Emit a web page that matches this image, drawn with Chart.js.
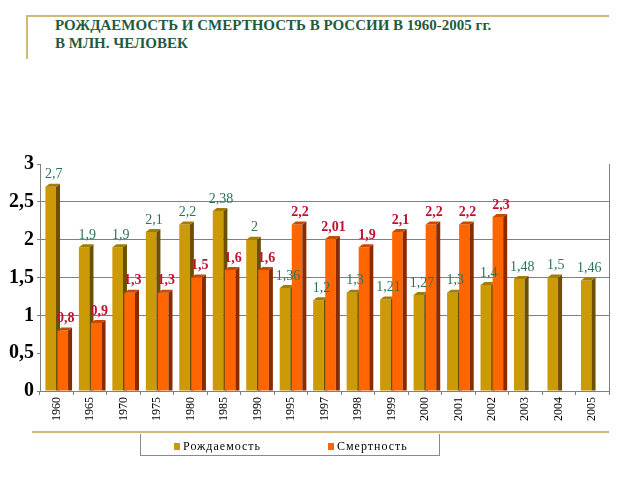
<!DOCTYPE html>
<html>
<head>
<meta charset="utf-8">
<script src="https://cdn.jsdelivr.net/npm/chart.js@4"></script>
<style>
  body { margin: 0; background: #fff; }
  #wrap { position: relative; width: 640px; height: 480px; overflow: hidden; }
  #chart { position: absolute; left: 0; top: 0; }
  .deco { position: absolute; background: #cfb97c; }
  #title {
    position: absolute; left: 55px; top: 16px;
    font: bold 15px 'Liberation Serif', serif; color: #1f5c3d;
    line-height: 18px; white-space: nowrap;
  }
  #legend {
    position: absolute; left: 140px; top: 434px; width: 298px; height: 21px;
    border: 1px solid #8a8a8a; border-top: none; box-sizing: content-box;
    font: 12px 'Liberation Serif', serif; letter-spacing: 1px; color: #000;
  }
  .item { position: absolute; top: 5px; white-space: nowrap; }
  .sw { display: inline-block; width: 6px; height: 7px; margin-right: 3px; }
</style>
</head>
<body>
<div id="wrap">
  <div class="deco" style="left:27px; top:15px; width:582px; height:2px;"></div>
  <div class="deco" style="left:26px; top:15px; width:2px; height:44px;"></div>
  <div class="deco" style="left:32px; top:431px; width:577px; height:2px;"></div>
  <div id="title">РОЖДАЕМОСТЬ И СМЕРТНОСТЬ В РОССИИ В 1960-2005 гг.<br>В МЛН. ЧЕЛОВЕК</div>
  <canvas id="chart" width="640" height="480"></canvas>
  <div id="legend"></div>
</div>
<script>
// Chart data
const years = ['1960', '1965', '1970', '1975', '1980', '1985', '1990', '1995', '1997',
  '1998', '1999', '2000', '2001', '2002', '2003', '2004', '2005'];
const birthRate = [2.7, 1.9, 1.9, 2.1, 2.2, 2.38, 2, 1.36, 1.2, 1.3, 1.21, 1.27, 1.3, 1.4, 1.48, 1.5, 1.46];
const deathRate = [0.8, 0.9, 1.3, 1.3, 1.5, 1.6, 1.6, 2.2, 2.01, 1.9, 2.1, 2.2, 2.2, 2.3, null, null, null];
const seriesNames = ['Рождаемость', 'Смертность'];

const faceColors = ['#cc9a06', '#ff6600'];
const sideColors = ['#6b5000', '#8a2a00'];
const topColors = ['#a37c05', '#c44b00'];
const labelColors = ['#2b7355', '#c0122e'];

function fmt(v) {
  return String(v).replace('.', ',');
}

// fake 3D bars: default drawing is skipped, every bar drawn here left to right
const depthPlugin = {
  id: 'depth',
  beforeDatasetDraw() {
    return false;
  },
  afterDatasetsDraw(chart) {
    const ctx = chart.ctx;
    const dx = 4, dy = 3;
    const area = chart.chartArea;
    ctx.save();
    ctx.beginPath();
    ctx.rect(area.left, area.top - 20, area.right - area.left, area.bottom - area.top + 20);
    ctx.clip();
    chart.data.datasets.forEach((ds, i) => {
      const meta = chart.getDatasetMeta(i);
      meta.data.forEach((bar, j) => {
        if (ds.data[j] == null) return;
        bar.draw(ctx, area);
        const half = bar.width / 2;
        const r = bar.x + half, l = bar.x - half;
        ctx.fillStyle = sideColors[i];
        ctx.beginPath();
        ctx.moveTo(r, bar.y);
        ctx.lineTo(r + dx, bar.y - dy);
        ctx.lineTo(r + dx, bar.base);
        ctx.lineTo(r, bar.base);
        ctx.closePath();
        ctx.fill();
        ctx.fillStyle = topColors[i];
        ctx.beginPath();
        ctx.moveTo(l, bar.y);
        ctx.lineTo(l + dx, bar.y - dy);
        ctx.lineTo(r + dx, bar.y - dy);
        ctx.lineTo(r, bar.y);
        ctx.closePath();
        ctx.fill();
      });
    });
    ctx.restore();

    // value labels
    ctx.save();
    ctx.textAlign = 'center';
    ctx.textBaseline = 'bottom';
    chart.data.datasets.forEach((ds, i) => {
      const meta = chart.getDatasetMeta(i);
      ctx.font = (i === 1 ? 'bold ' : '') + '14px "Liberation Serif", serif';
      ctx.fillStyle = labelColors[i];
      meta.data.forEach((bar, j) => {
        const v = ds.data[j];
        if (v == null) return;
        ctx.fillText(fmt(v), bar.x + 3, bar.y - 5);
      });
    });
    ctx.restore();
  }
};

const chart = new Chart(document.getElementById('chart'), {
  type: 'bar',
  data: {
    labels: years,
    datasets: [
      { label: seriesNames[0], data: birthRate, backgroundColor: faceColors[0] },
      { label: seriesNames[1], data: deathRate, backgroundColor: faceColors[1] }
    ]
  },
  options: {
    responsive: false,
    animation: false,
    categoryPercentage: 0.72,
    barPercentage: 0.88,
    layout: { padding: { left: 0, top: 164, right: 31, bottom: 29 } },
    plugins: {
      legend: { display: false },
      tooltip: { enabled: false }
    },
    scales: {
      x: {
        afterFit: (scale) => { scale.height = 60; },
        grid: {
          offset: true,
          color: (c) => c.type === 'scale' ? '#808080' : 'rgba(0,0,0,0)',
          tickColor: '#808080',
          tickLength: 4
        },
        border: { color: '#808080' },
        ticks: {
          minRotation: 90,
          maxRotation: 90,
          padding: 2,
          color: '#000',
          font: { family: 'Liberation Serif', size: 12 }
        }
      },
      y: {
        min: 0,
        max: 3,
        afterFit: (scale) => { scale.width = 40; },
        grid: {
          color: (c) => (c.tick && c.tick.value >= 1 && c.tick.value <= 2.5) ? '#808080' : 'rgba(0,0,0,0)',
          tickColor: '#808080',
          tickLength: 3
        },
        border: { color: '#808080' },
        ticks: {
          stepSize: 0.5,
          padding: 3,
          color: '#000',
          font: { family: 'Liberation Serif', size: 20, weight: 'bold' },
          callback: (v) => fmt(v)
        }
      }
    }
  },
  plugins: [depthPlugin]
});

// legend built from the datasets
const legend = document.getElementById('legend');
const legendX = [33, 187];
chart.data.datasets.forEach((ds, i) => {
  const item = document.createElement('div');
  item.className = 'item';
  item.style.left = legendX[i] + 'px';
  const sw = document.createElement('span');
  sw.className = 'sw';
  sw.style.background = ds.backgroundColor;
  item.appendChild(sw);
  item.appendChild(document.createTextNode(ds.label));
  legend.appendChild(item);
});
</script>
</body>
</html>
